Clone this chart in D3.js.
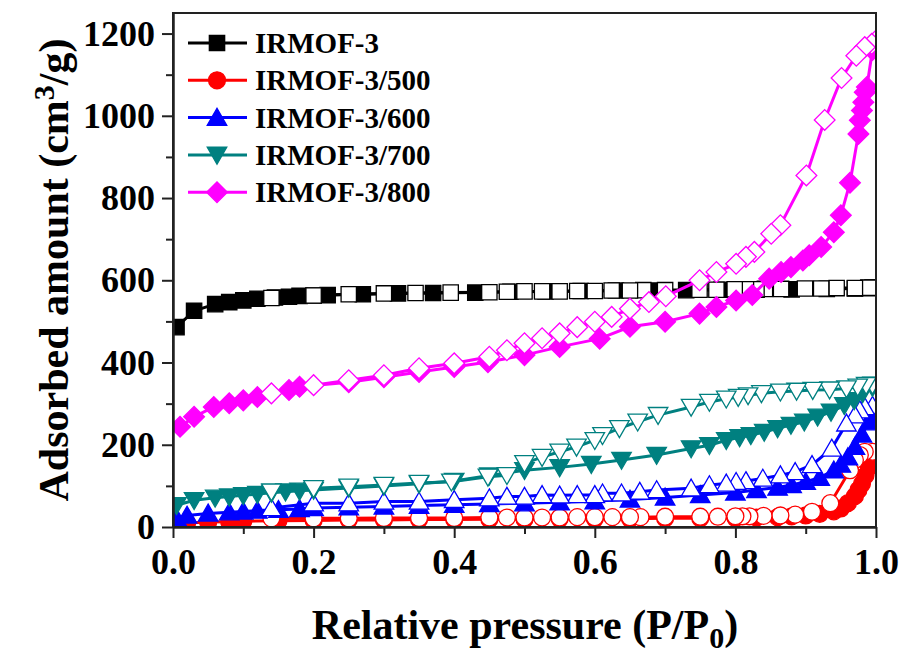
<!DOCTYPE html>
<meta charset="utf-8">
<html>
  <style>
    body { margin: 0; background: #fff; }
    .axis text { font-family: "Liberation Serif", "Times New Roman", serif; font-weight: bold; font-size: 36px; fill: #000; }
    .axis path, .axis line { stroke: #222; stroke-width: 2px; }
    .title { font-family: "Liberation Serif", "Times New Roman", serif; font-weight: bold; font-size: 42px; fill: #000; }
    .legend text { font-family: "Liberation Serif", "Times New Roman", serif; font-weight: bold; font-size: 29px; fill: #000; }
  </style>
  <head>
    <script src="https://cdn.jsdelivr.net/npm/d3@7"></script>
  </head>
  <body>
    <script>
      // isotherm data: [P/P0, adsorbed amount]
      var irmof3_ads = [[0.005,486],[0.03,526],[0.06,542],[0.08,547],[0.10,551],[0.12,555],[0.145,558],[0.165,560],[0.18,562],[0.20,563],[0.22,564],[0.27,566],[0.32,568],[0.37,569],[0.43,570],[0.48,572],[0.53,573],[0.58,574],[0.63,575],[0.68,575],[0.73,576],[0.78,577],[0.83,577],[0.88,578],[0.93,579],[0.97,580],[0.99,581]];
      var irmof3_des = [[0.995,582],[0.989,582],[0.97,581],[0.944,581],[0.922,580],[0.899,580],[0.865,579],[0.842,579],[0.83,578],[0.815,578],[0.799,578],[0.773,577],[0.749,577],[0.70,576],[0.669,576],[0.65,575],[0.624,575],[0.60,574],[0.575,574],[0.55,573],[0.525,573],[0.50,573],[0.475,572],[0.45,571],[0.395,570],[0.345,569],[0.30,568],[0.25,566],[0.20,563],[0.14,557]];

      var irmof500_ads = [[0.005,8],[0.02,10],[0.05,12],[0.08,13],[0.1,14],[0.15,15],[0.2,16],[0.25,17],[0.3,17],[0.35,18],[0.4,18],[0.45,19],[0.5,19],[0.55,20],[0.6,20],[0.65,20],[0.7,21],[0.75,21],[0.8,22],[0.83,23],[0.86,24],[0.88,26],[0.9,28],[0.92,32],[0.94,38],[0.95,45],[0.96,58],[0.97,75],[0.975,90],[0.98,105],[0.985,125],[0.99,145],[0.995,165]];
      var irmof500_des = [[0.995,183],[0.984,183],[0.977,175],[0.97,163],[0.963,138],[0.935,58],[0.909,37],[0.885,30],[0.864,28],[0.84,27],[0.82,26],[0.81,26],[0.80,26],[0.775,25],[0.75,25],[0.70,25],[0.665,24],[0.65,24],[0.625,24],[0.60,24],[0.575,24],[0.55,23],[0.525,23],[0.50,23],[0.475,23],[0.45,23],[0.40,22],[0.35,22],[0.30,22],[0.25,21],[0.20,21],[0.14,21]];

      var irmof600_ads = [[0.005,22],[0.02,28],[0.05,33],[0.08,36],[0.1,38],[0.12,40],[0.15,42],[0.18,44],[0.2,46],[0.25,48],[0.3,50],[0.35,52],[0.4,54],[0.45,56],[0.5,58],[0.55,60],[0.6,63],[0.65,67],[0.7,72],[0.75,78],[0.8,84],[0.83,90],[0.86,96],[0.88,102],[0.9,110],[0.92,120],[0.94,138],[0.95,152],[0.96,170],[0.97,195],[0.98,225],[0.99,255],[0.995,275]];
      var irmof600_des = [[0.995,295],[0.984,292],[0.977,284],[0.97,272],[0.958,252],[0.937,191],[0.909,151],[0.885,134],[0.864,126],[0.839,118],[0.815,112],[0.801,110],[0.787,106],[0.763,102],[0.737,94],[0.688,90],[0.664,86],[0.638,82],[0.611,82],[0.6,78],[0.575,78],[0.55,77],[0.525,78],[0.5,74],[0.475,74],[0.45,70],[0.4,66],[0.35,62],[0.3,62],[0.25,58],[0.2,58],[0.14,46]];

      var irmof700_ads = [[0.005,53],[0.03,65],[0.06,71],[0.08,74],[0.1,77],[0.12,80],[0.14,83],[0.16,86],[0.18,88],[0.2,90],[0.25,95],[0.3,100],[0.35,105],[0.4,112],[0.45,125],[0.5,138],[0.55,145],[0.595,153],[0.638,163],[0.688,175],[0.737,191],[0.763,199],[0.787,211],[0.806,218],[0.822,223],[0.841,231],[0.86,240],[0.879,248],[0.898,256],[0.917,268],[0.936,280],[0.955,296],[0.969,308],[0.981,325],[0.995,340]];
      var irmof700_des = [[0.995,346],[0.986,345],[0.974,341],[0.958,337],[0.934,334],[0.91,333],[0.887,331],[0.864,329],[0.837,325],[0.818,320],[0.804,316],[0.787,312],[0.763,304],[0.737,292],[0.69,272],[0.661,256],[0.635,240],[0.611,223],[0.6,211],[0.574,195],[0.55,183],[0.525,170],[0.5,155],[0.475,126],[0.448,122],[0.396,110],[0.35,107],[0.3,102],[0.25,98],[0.2,94],[0.14,86]];

      var irmof800_ads = [[0.01,244],[0.03,268],[0.058,292],[0.08,301],[0.1,308],[0.12,316],[0.165,333],[0.18,341],[0.25,352],[0.3,364],[0.35,377],[0.4,389],[0.448,401],[0.5,418],[0.55,438],[0.607,458],[0.65,487],[0.7,499],[0.749,519],[0.773,535],[0.801,551],[0.824,564],[0.848,604],[0.865,620],[0.879,632],[0.896,648],[0.905,661],[0.922,681],[0.94,717],[0.95,758],[0.963,837],[0.975,956],[0.977,989],[0.98,1013],[0.982,1033],[0.984,1057],[0.987,1070],[0.995,1160]];
      var irmof800_des = [[1.0,1183],[0.994,1175],[0.984,1167],[0.972,1146],[0.951,1092],[0.927,990],[0.901,855],[0.864,734],[0.851,713],[0.827,669],[0.815,657],[0.801,640],[0.773,620],[0.749,600],[0.701,561],[0.677,547],[0.65,531],[0.624,511],[0.6,499],[0.575,486],[0.55,471],[0.525,459],[0.5,447],[0.475,430],[0.45,414],[0.4,398],[0.35,386],[0.3,369],[0.25,357],[0.2,345],[0.14,325]];

      var seriesNames = ["IRMOF-3", "IRMOF-3/500", "IRMOF-3/600", "IRMOF-3/700", "IRMOF-3/800"];
      var seriesColors = ["#000000", "#ff0000", "#0000ff", "#008080", "#ff00ff"];
      var seriesShapes = ["square", "circle", "up", "down", "diamond"];
      var adsData = [irmof3_ads, irmof500_ads, irmof600_ads, irmof700_ads, irmof800_ads];
      var desData = [irmof3_des, irmof500_des, irmof600_des, irmof700_des, irmof800_des];

      var xTicks = [0, 0.2, 0.4, 0.6, 0.8, 1.0];
      var xMinor = [0.1, 0.3, 0.5, 0.7, 0.9];
      var yTicks = [0, 200, 400, 600, 800, 1000, 1200];
      var yMinor = [100, 300, 500, 700, 900, 1100];

      // plot area
      var margin = {top: 13, left: 173},
          width = 703,
          height = 514;

      var svg = d3.select("body").append("svg")
          .attr("width", 905)
          .attr("height", 657);

      var x = d3.scaleLinear().domain([0, 1]).range([margin.left, margin.left + width]);
      var y = d3.scaleLinear().domain([0, 1250]).range([margin.top + height, margin.top]);

      svg.append("defs").append("clipPath").attr("id", "plotclip")
        .append("rect")
          .attr("x", margin.left).attr("y", margin.top)
          .attr("width", width).attr("height", height);

      // marker path generators
      function markerPath(shape) {
        if (shape == "square") return d3.symbol().type(d3.symbolSquare).size(235)();
        if (shape == "circle") return d3.symbol().type(d3.symbolCircle).size(225)();
        if (shape == "up" || shape == "down") return d3.symbol().type(d3.symbolTriangle).size(165)();
        return d3.symbol().type(d3.symbolSquare).size(215)();
      }
      function markerRot(shape) {
        if (shape == "down") return " rotate(180)";
        if (shape == "diamond") return " rotate(45)";
        return "";
      }
      function markerShift(shape) {
        return shape == "up" ? 2 : (shape == "down" ? -2 : 0);
      }

      var line = d3.line()
          .x(function(d) { return x(d[0]); })
          .y(function(d) { return y(d[1]); });

      var plot = svg.append("g").attr("clip-path", "url(#plotclip)");

      function drawBranch(data, i, filled) {
        var col = seriesColors[i], shape = seriesShapes[i];
        plot.append("path").datum(data)
            .attr("d", line)
            .attr("fill", "none")
            .attr("stroke", col)
            .attr("stroke-width", 3);
        plot.append("g").selectAll("path").data(data).enter().append("path")
            .attr("d", markerPath(shape))
            .attr("transform", function(d) {
              return "translate(" + x(d[0]) + "," + (y(d[1]) + markerShift(shape)) + ")" + markerRot(shape);
            })
            .attr("fill", filled ? col : "#fff")
            .attr("stroke", col)
            .attr("stroke-width", 1.3);
      }

      for (var i = 0; i < seriesNames.length; i++) {
        drawBranch(adsData[i], i, true);
        drawBranch(desData[i], i, false);
      }

      // frame
      svg.append("rect")
          .attr("x", margin.left).attr("y", margin.top)
          .attr("width", width).attr("height", height)
          .attr("fill", "none").attr("stroke", "#222").attr("stroke-width", 2);

      // axes
      svg.append("g").attr("class", "axis")
          .attr("transform", "translate(0," + (margin.top + height) + ")")
          .call(d3.axisBottom(x).tickValues(xTicks).tickSize(11).tickSizeOuter(0).tickPadding(10)
                .tickFormat(d3.format(".1f")));
      svg.append("g").attr("class", "axis")
          .attr("transform", "translate(0," + (margin.top + height) + ")")
          .call(d3.axisBottom(x).tickValues(xMinor).tickSize(7).tickSizeOuter(0).tickFormat(""));
      svg.append("g").attr("class", "axis")
          .attr("transform", "translate(" + margin.left + ",0)")
          .call(d3.axisLeft(y).tickValues(yTicks).tickSize(11).tickSizeOuter(0).tickPadding(7)
                .tickFormat(d3.format("d")));
      svg.append("g").attr("class", "axis")
          .attr("transform", "translate(" + margin.left + ",0)")
          .call(d3.axisLeft(y).tickValues(yMinor).tickSize(7).tickSizeOuter(0).tickFormat(""));

      // axis titles
      var xt = svg.append("text").attr("class", "title")
          .attr("x", 525).attr("y", 639).attr("text-anchor", "middle");
      xt.append("tspan").text("Relative pressure (P/P");
      xt.append("tspan").attr("dy", 9).style("font-size", "30px").text("0");
      xt.append("tspan").attr("dy", -9).text(")");

      var yt = svg.append("text").attr("class", "title")
          .attr("text-anchor", "middle")
          .attr("transform", "translate(68," + (margin.top + height / 2) + ") rotate(-90)");
      yt.append("tspan").text("Adsorbed amount (cm");
      yt.append("tspan").attr("dy", -14).style("font-size", "30px").text("3");
      yt.append("tspan").attr("dy", 14).text("/g)");

      // legend
      var legend = svg.append("g").attr("class", "legend");
      for (var j = 0; j < seriesNames.length; j++) {
        var ly = 43 + j * 37.3;
        legend.append("line")
            .attr("x1", 188).attr("x2", 247).attr("y1", ly).attr("y2", ly)
            .attr("stroke", seriesColors[j]).attr("stroke-width", 3);
        legend.append("path")
            .attr("d", markerPath(seriesShapes[j]))
            .attr("transform", "translate(217," + (ly + markerShift(seriesShapes[j])) + ")" + markerRot(seriesShapes[j]))
            .attr("fill", seriesColors[j]).attr("stroke", seriesColors[j]).attr("stroke-width", 1.3);
        legend.append("text").attr("x", 255).attr("y", ly + 10).text(seriesNames[j]);
      }
    </script>
  </body>
</html>
